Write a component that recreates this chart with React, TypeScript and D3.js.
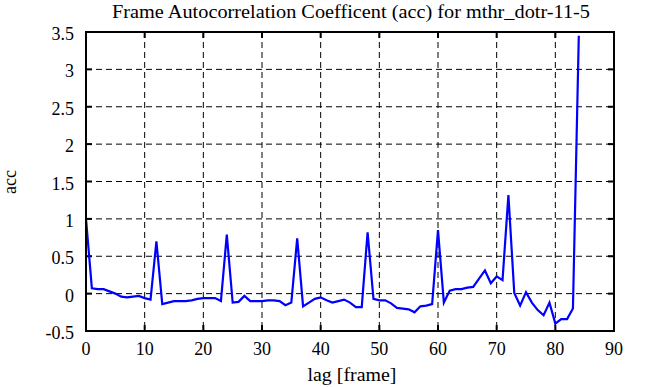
import * as d3 from "d3";
import { useEffect, useRef } from "react";

const lags = d3.range(0, 85);
const acc = [
  1.0, 0.07, 0.06, 0.06, 0.03, 0.0, -0.04, -0.05, -0.04, -0.03,
  -0.06, -0.08, 0.7, -0.14, -0.12, -0.1, -0.1, -0.1, -0.09, -0.07,
  -0.06, -0.06, -0.06, -0.1, 0.79, -0.12, -0.11, -0.03, -0.1, -0.1,
  -0.1, -0.09, -0.09, -0.1, -0.155, -0.12, 0.74, -0.17, -0.12, -0.07,
  -0.05, -0.09, -0.12, -0.1, -0.08, -0.12, -0.18, -0.18, 0.82, -0.07,
  -0.09, -0.09, -0.13, -0.19, -0.2, -0.21, -0.25, -0.17, -0.16, -0.14,
  0.85, -0.12, 0.04, 0.06, 0.06, 0.08, 0.09, 0.2, 0.31, 0.14,
  0.23, 0.18, 1.32, 0.01, -0.16, 0.02, -0.12, -0.22, -0.29, -0.12,
  -0.4, -0.34, -0.34, -0.2, 3.45,
];
const xTicks = [0, 10, 20, 30, 40, 50, 60, 70, 80, 90];
const yTicks = [-0.5, 0, 0.5, 1, 1.5, 2, 2.5, 3, 3.5];

const title = "Frame Autocorrelation Coefficent (acc) for mthr_dotr-11-5";
const xLabel = "lag [frame]";
const yLabel = "acc";

export default function App() {
  const svgRef = useRef<SVGSVGElement | null>(null);

  useEffect(() => {
    if (!svgRef.current) return;
    const svg = d3.select(svgRef.current);
    svg.selectAll("*").remove();

    const left = 86, right = 614, top = 32, bottom = 331;
    const font = "Liberation Serif, serif";

    const x = d3.scaleLinear().domain([0, 90]).range([left, right]);
    const y = d3.scaleLinear().domain([-0.5, 3.5]).range([bottom, top]);

    // grid
    const grid = svg.append("g").attr("stroke", "#000").attr("stroke-width", 1)
      .attr("stroke-dasharray", "6,4");
    xTicks.slice(1, -1).forEach((t) => {
      grid.append("line").attr("x1", x(t)).attr("x2", x(t))
        .attr("y1", top).attr("y2", bottom);
    });
    yTicks.slice(1, -1).forEach((t) => {
      grid.append("line").attr("x1", left).attr("x2", right)
        .attr("y1", y(t)).attr("y2", y(t));
    });

    // inner ticks on all four sides
    const ticks = svg.append("g").attr("stroke", "#000").attr("stroke-width", 2);
    xTicks.forEach((t) => {
      ticks.append("line").attr("x1", x(t)).attr("x2", x(t)).attr("y1", bottom).attr("y2", bottom - 6);
      ticks.append("line").attr("x1", x(t)).attr("x2", x(t)).attr("y1", top).attr("y2", top + 6);
    });
    yTicks.forEach((t) => {
      ticks.append("line").attr("x1", left).attr("x2", left + 6).attr("y1", y(t)).attr("y2", y(t));
      ticks.append("line").attr("x1", right).attr("x2", right - 6).attr("y1", y(t)).attr("y2", y(t));
    });

    const line = d3.line<number>()
      .x((_, i) => x(lags[i]))
      .y((d) => y(d));

    svg.append("path")
      .datum(acc)
      .attr("fill", "none")
      .attr("stroke", "#0000ff")
      .attr("stroke-width", 2.2)
      .attr("d", line);

    svg.append("rect")
      .attr("x", left).attr("y", top)
      .attr("width", right - left).attr("height", bottom - top)
      .attr("fill", "none").attr("stroke", "#000").attr("stroke-width", 2);

    const txt = svg.append("g").attr("font-family", font).attr("fill", "#000");
    xTicks.forEach((t) => {
      txt.append("text").attr("x", x(t)).attr("y", bottom + 24)
        .attr("text-anchor", "middle").attr("font-size", 18).text(t);
    });
    yTicks.forEach((t) => {
      txt.append("text").attr("x", left - 12).attr("y", y(t) + 8)
        .attr("text-anchor", "end").attr("font-size", 18).text(t);
    });
    txt.append("text").attr("x", 351).attr("y", 18)
      .attr("text-anchor", "middle").attr("font-size", 18)
      .attr("textLength", 478).attr("lengthAdjust", "spacingAndGlyphs")
      .text(title);
    txt.append("text").attr("x", 352).attr("y", 381)
      .attr("text-anchor", "middle").attr("font-size", 18)
      .attr("textLength", 89).attr("lengthAdjust", "spacingAndGlyphs")
      .text(xLabel);
    txt.append("text")
      .attr("transform", "translate(16,182) rotate(-90)")
      .attr("text-anchor", "middle").attr("font-size", 18).text(yLabel);
  }, []);

  return (
    <svg
      ref={svgRef}
      width={646}
      height={387}
      style={{ position: "absolute", left: 0, top: 0, background: "#fff" }}
    />
  );
}
